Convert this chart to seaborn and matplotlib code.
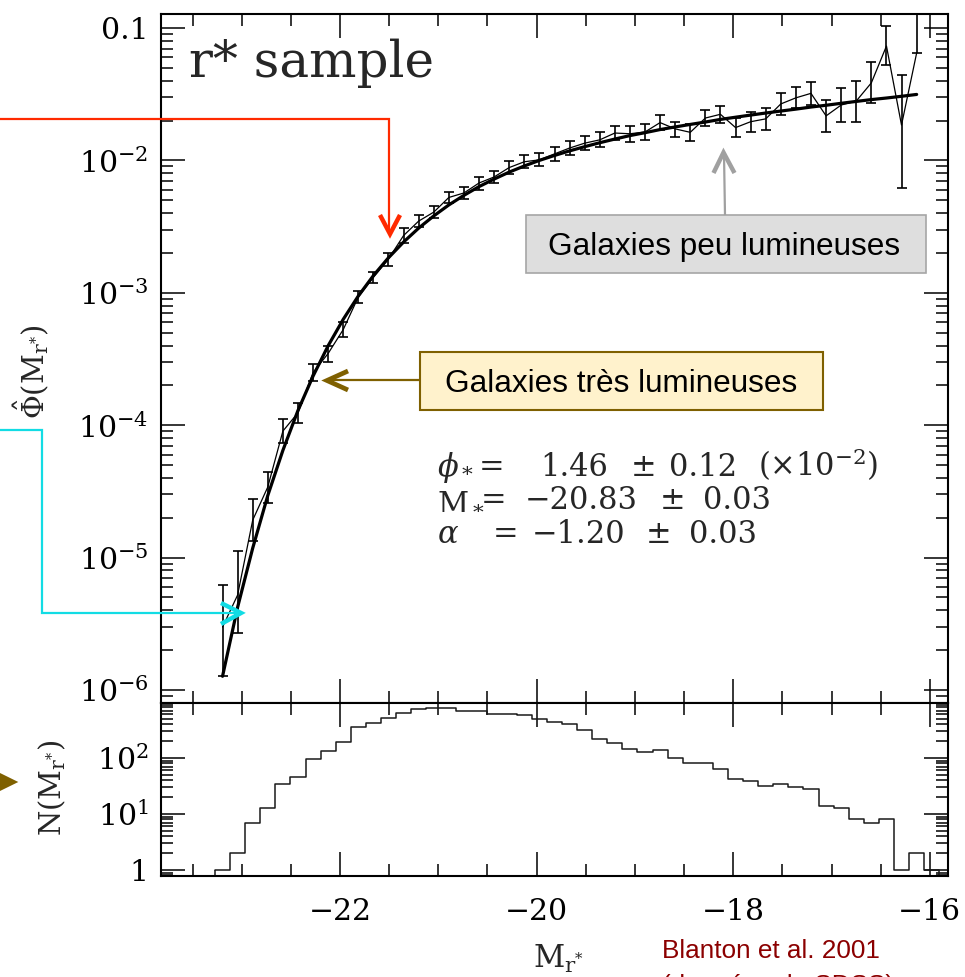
import numpy as np
import pandas as pd
import matplotlib
matplotlib.use("Agg")
import matplotlib.pyplot as plt
import seaborn as sns
from matplotlib.lines import Line2D
from matplotlib.patches import Rectangle, Polygon
from matplotlib.ticker import MultipleLocator, LogLocator, NullFormatter

# ------------------------------------------------------------------ data
mag_centres = [-23.195, -23.042, -22.888, -22.735, -22.581, -22.428, -22.274, -22.121,
               -21.967, -21.814, -21.660, -21.507, -21.353, -21.200, -21.046, -20.893,
               -20.739, -20.586, -20.432, -20.279, -20.125, -19.972, -19.818, -19.665,
               -19.511, -19.358, -19.204, -19.051, -18.897, -18.744, -18.590, -18.437,
               -18.283, -18.130, -17.976, -17.823, -17.669, -17.516, -17.362, -17.209,
               -17.055, -16.902, -16.748, -16.595, -16.441, -16.288, -16.134]

phi_obs = [2.99e-6, 5.21e-6, 1.92e-5, 3.41e-5, 9.03e-5, 1.24e-4, 2.50e-4, 3.48e-4,
           5.28e-4, 9.29e-4, 1.31e-3, 1.80e-3, 2.71e-3, 3.48e-3, 4.07e-3, 5.25e-3,
           5.68e-3, 6.75e-3, 7.50e-3, 8.83e-3, 9.77e-3, 1.01e-2, 1.12e-2, 1.24e-2,
           1.35e-2, 1.43e-2, 1.61e-2, 1.59e-2, 1.64e-2, 1.93e-2, 1.73e-2, 1.63e-2,
           2.09e-2, 2.23e-2, 1.77e-2, 1.96e-2, 2.06e-2, 2.67e-2, 2.97e-2, 3.21e-2,
           2.17e-2, 2.62e-2, 2.81e-2, 3.85e-2, 7.31e-2, 1.85e-2, 6.47e-2]

phi_upper = [6.21e-6, 1.13e-5, 2.77e-5, 4.47e-5, 1.11e-4, 1.46e-4, 2.90e-4, 4.00e-4,
             6.05e-4, 1.03e-3, 1.44e-3, 1.99e-3, 3.07e-3, 3.87e-3, 4.53e-3, 5.81e-3,
             6.32e-3, 7.53e-3, 8.36e-3, 9.89e-3, 1.10e-2, 1.13e-2, 1.27e-2, 1.39e-2,
             1.53e-2, 1.63e-2, 1.82e-2, 1.82e-2, 1.88e-2, 2.20e-2, 1.96e-2, 1.88e-2,
             2.40e-2, 2.58e-2, 2.08e-2, 2.33e-2, 2.48e-2, 3.24e-2, 3.56e-2, 3.93e-2,
             2.86e-2, 3.51e-2, 4.00e-2, 5.56e-2, 1.04e-1, 4.42e-2, 2.0e-1]

phi_lower = [1.28e-6, 2.68e-6, 1.33e-5, 2.60e-5, 7.40e-5, 1.04e-4, 2.16e-4, 3.02e-4,
             4.63e-4, 8.34e-4, 1.18e-3, 1.59e-3, 2.39e-3, 3.13e-3, 3.66e-3, 4.74e-3,
             5.08e-3, 5.97e-3, 6.71e-3, 7.89e-3, 8.71e-3, 9.08e-3, 9.95e-3, 1.10e-2,
             1.20e-2, 1.26e-2, 1.43e-2, 1.38e-2, 1.43e-2, 1.70e-2, 1.51e-2, 1.41e-2,
             1.82e-2, 1.93e-2, 1.51e-2, 1.65e-2, 1.70e-2, 2.20e-2, 2.48e-2, 2.62e-2,
             1.65e-2, 1.96e-2, 1.96e-2, 2.70e-2, 5.26e-2, 6.15e-3, 6.47e-2]

phi_fit = [1.27e-6, 4.21e-6, 1.18e-5, 2.94e-5, 6.46e-5, 1.29e-4, 2.35e-4, 3.98e-4,
           6.31e-4, 9.46e-4, 1.35e-3, 1.84e-3, 2.42e-3, 3.08e-3, 3.81e-3, 4.61e-3,
           5.45e-3, 6.34e-3, 7.23e-3, 8.16e-3, 9.08e-3, 1.00e-2, 1.09e-2, 1.18e-2,
           1.27e-2, 1.36e-2, 1.45e-2, 1.54e-2, 1.62e-2, 1.71e-2, 1.79e-2, 1.87e-2,
           1.95e-2, 2.04e-2, 2.12e-2, 2.20e-2, 2.28e-2, 2.36e-2, 2.44e-2, 2.53e-2,
           2.61e-2, 2.70e-2, 2.79e-2, 2.88e-2, 2.96e-2, 3.05e-2, 3.15e-2]

hist_edges = [-23.272, -23.119, -22.965, -22.812, -22.658, -22.505, -22.351, -22.198,
              -22.044, -21.891, -21.737, -21.584, -21.430, -21.277, -21.123, -20.970,
              -20.816, -20.663, -20.509, -20.356, -20.202, -20.049, -19.895, -19.742,
              -19.588, -19.435, -19.281, -19.128, -18.974, -18.821, -18.667, -18.514,
              -18.360, -18.207, -18.053, -17.900, -17.746, -17.593, -17.439, -17.286,
              -17.132, -16.979, -16.825, -16.672, -16.518, -16.365, -16.211, -16.058,
              -15.904]

hist_counts = [1, 2, 7, 13, 34, 46, 95, 131, 196, 358, 427, 510, 646, 742, 782, 782,
               700, 700, 610, 610, 586, 490, 445, 405, 316, 219, 188, 145, 130, 139,
               101, 80, 80, 63, 43, 39, 32, 34, 30, 28, 14, 13, 8, 7, 8, 1, 2, 1]

x_ticks = [-22, -20, -18, -16]
x_tick_labels = ["\u221222", "\u221220", "\u221218", "\u221216"]
phi_ticks = [1e-6, 1e-5, 1e-4, 1e-3, 1e-2, 1e-1]
phi_tick_labels = [r"$10^{-6}$", r"$10^{-5}$", r"$10^{-4}$", r"$10^{-3}$", r"$10^{-2}$", "0.1"]
n_ticks = [1, 10, 100]
n_tick_labels = ["1", r"$10^{1}$", r"$10^{2}$"]

# ------------------------------------------------------------------ style
sns.set_theme(style="ticks")
plt.rcParams["font.family"] = ["DejaVu Serif", "DejaVu Sans"]
plt.rcParams["mathtext.fontset"] = "dejavuserif"

W, H = 965, 977
fig = plt.figure(figsize=(W / 100, H / 100), dpi=100, facecolor="white")


def fx(x):
    return x / W


def fy(y):
    return 1 - y / H


L, R, T, MID, B = 161, 948, 14, 703, 876
ax1 = fig.add_axes([fx(L), fy(MID), (R - L) / W, (MID - T) / H])
ax2 = fig.add_axes([fx(L), fy(B), (R - L) / W, (B - MID) / H], sharex=ax1)
for ax in (ax1, ax2):
    ax.set_facecolor("white")

# ------------------------------------------------------------------ luminosity function
df = pd.DataFrame({"M": mag_centres, "phi": phi_obs, "fit": phi_fit})
sns.lineplot(data=df, x="M", y="fit", ax=ax1, color="black", lw=2.3, estimator=None)
sns.lineplot(data=df, x="M", y="phi", ax=ax1, color="black", lw=0.9, estimator=None)
obs = np.array(phi_obs)
yerr = np.vstack([obs - np.array(phi_lower), np.array(phi_upper) - obs])
ax1.errorbar(mag_centres, phi_obs, yerr=yerr, fmt="none", ecolor="black",
             elinewidth=1.2, capsize=3.3, capthick=1.2)
ax1.set_yscale("log")

# ------------------------------------------------------------------ histogram
hdf = pd.DataFrame({"edge": hist_edges, "N": hist_counts + [hist_counts[-1]]})
sns.lineplot(data=hdf, x="edge", y="N", ax=ax2, drawstyle="steps-post",
             color="#1a1a1a", lw=1.1, estimator=None)
ax2.set_yscale("log")
ax2.vlines([hist_edges[0], hist_edges[-1]], 0.78, [hist_counts[0], hist_counts[-1]],
           color="#1a1a1a", lw=1.1)

# ------------------------------------------------------------------ axes cosmetics
for ax in (ax1, ax2):
    ax.set_xlabel("")
    ax.set_ylabel("")
    ax.set_xticks(x_ticks)
    ax.xaxis.set_minor_locator(MultipleLocator(0.5))
    ax.tick_params(which="both", direction="in", top=True, right=True, bottom=True,
                   left=True, color="black", width=1.1, labelcolor="black")
    ax.tick_params(which="major", length=17)
    ax.tick_params(which="minor", length=8.5)
    for s in ax.spines.values():
        s.set_linewidth(1.5)
        s.set_color("black")
    ax.yaxis.set_minor_locator(LogLocator(base=10, subs=np.arange(2, 10), numticks=30))
    ax.yaxis.set_minor_formatter(NullFormatter())

ax1.set_yticks(phi_ticks, phi_tick_labels)
ax2.set_yticks(n_ticks, n_tick_labels)
ax2.set_xticks(x_ticks, x_tick_labels)
ax1.set_ylim(7.98e-7, 0.1276)
ax2.set_ylim(0.78, 960)
ax1.set_xlim(-23.821, -15.815)
ax1.tick_params(axis="x", labelbottom=False)
ax2.tick_params(axis="x", labelsize=21.5, pad=16)
ax1.tick_params(axis="y", labelsize=21.5, pad=9)
ax2.tick_params(axis="y", labelsize=21.5, pad=9)

# ------------------------------------------------------------------ texts
fig.text(fx(189), fy(77), "r* sample", fontsize=36, ha="left", va="baseline")

param_rows = [
    (476, [(437, r"$\phi_*$"), (479, "="), (540, "1.46"), (631, "\u00b1"),
           (669, "0.12"), (758, "(\u00d710$^{-2}$)")]),
    (509, [(437, r"M$_*$"), (481, "="), (525, "\u221220.83"), (660, "\u00b1"),
           (703, "0.03")]),
    (543, [(437, r"$\alpha$"), (493, "="), (532, "\u22121.20"), (646, "\u00b1"),
           (689, "0.03")]),
]
for base, toks in param_rows:
    for xp, t in toks:
        fig.text(fx(xp), fy(base), t, fontsize=22, ha="left", va="baseline")

fig.text(fx(31), fy(372), r"$\hat{\Phi}(\mathrm{M}_{\mathrm{r}^{*}})$", rotation=90,
         ha="center", va="center", fontsize=21)
fig.text(fx(52), fy(788), r"$\mathrm{N}(\mathrm{M}_{\mathrm{r}^{*}})$", rotation=90,
         ha="center", va="center", fontsize=21)
fig.text(fx(533), fy(968), r"$\mathrm{M}_{\mathrm{r}^{*}}$", fontsize=22,
         ha="left", va="baseline")

fig.text(fx(662), fy(958), "Blanton et al. 2001", family="Liberation Sans",
         fontsize=18.8, color="#8B0000", ha="left", va="baseline")
fig.text(fx(662), fy(993), "(donn\u00e9es du SDSS)", family="Liberation Sans",
         fontsize=18.8, color="#8B0000", ha="left", va="baseline")


# ------------------------------------------------------------------ annotations
def fig_line(xs, ys, color, lw, z=5):
    fig.add_artist(Line2D([fx(x) for x in xs], [fy(y) for y in ys], color=color, lw=lw,
                          transform=fig.transFigure, solid_capstyle="butt",
                          solid_joinstyle="miter", zorder=z))


def fig_box(x0, y0, x1, y1, fc, ec, lw):
    fig.add_artist(Rectangle((fx(x0), fy(y1)), (x1 - x0) / W, (y1 - y0) / H,
                             transform=fig.transFigure, facecolor=fc, edgecolor=ec,
                             lw=lw, zorder=4))


RED = "#FF2A00"
CYAN = "#12DCE4"
OLIVE = "#7F6000"
GREY = "#A0A0A0"

# red arrow
fig_line([0, 388.5, 388.5], [118.5, 118.5, 232], RED, 1.6)
fig_line([380, 390, 400], [215, 234, 215], RED, 3.2)
# cyan arrow
fig_line([0, 42, 42, 239], [430, 430, 613, 613], CYAN, 1.6)
fig_line([221, 241, 221], [603, 613, 624], CYAN, 3.2)
# grey box + arrow
fig_box(525.7, 215, 925.7, 272.7, "#DEDEDE", "#A6A6A6", 1.2)
fig.text(fx(724), fy(255), "Galaxies peu lumineuses", family="Liberation Sans",
         fontsize=22.7, color="black", ha="center", va="baseline", zorder=6)
fig_line([725, 724], [215, 154], GREY, 1.6)
fig_line([713.5, 723.5, 734.5], [173, 152.5, 173], GREY, 3.2)
# olive box + arrow
fig_box(420, 352, 823, 410, "#FFF2CC", OLIVE, 1.5)
fig.text(fx(621.5), fy(392), "Galaxies tr\u00e8s lumineuses", family="Liberation Sans",
         fontsize=22.7, color="black", ha="center", va="baseline", zorder=6)
fig_line([420, 328], [380, 380], OLIVE, 1.6)
fig_line([348, 327, 348], [371, 380.5, 390], OLIVE, 3.4)
# olive arrow head cut at left edge
fig.add_artist(Polygon([(fx(0), fy(773)), (fx(18.3), fy(782)), (fx(0), fy(791))],
                       closed=True, transform=fig.transFigure, facecolor=OLIVE,
                       edgecolor="none", zorder=5))

fig.savefig("out.png", dpi=100, facecolor="white")
